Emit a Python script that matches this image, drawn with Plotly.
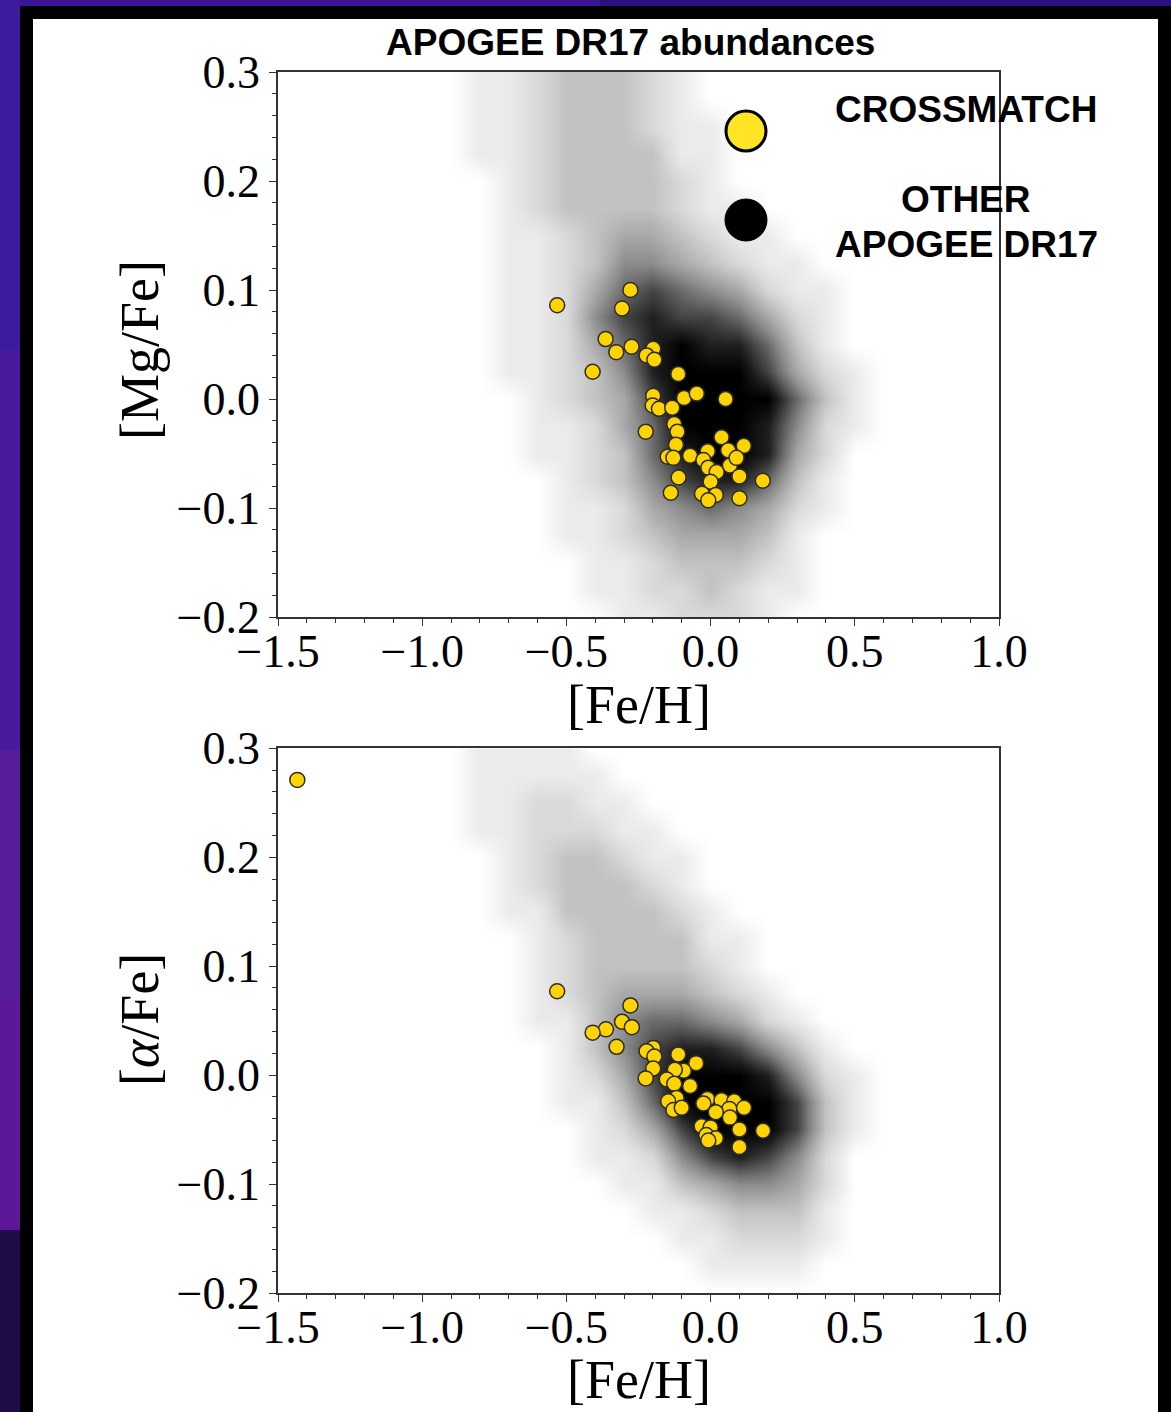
import plotly.graph_objects as go

# ---------------- data ----------------
# Crossmatch stars, top panel ([Mg/Fe] vs [Fe/H])
xm_feh_mg = [-0.532, -0.278, -0.307, -0.364, -0.327, -0.274, -0.199, -0.222, -0.195, -0.409,
             -0.112, -0.199, -0.201, -0.179, -0.133, -0.092, -0.048, 0.052, -0.126, -0.115,
             -0.225, -0.120, 0.038, 0.061, 0.115, -0.010, -0.149, -0.129, -0.071, -0.025,
             0.067, -0.008, 0.021, 0.100, -0.111, 0.181, 0.000, -0.138, -0.030, 0.018,
             0.100, -0.008, 0.090]
xm_mgfe = [0.086, 0.100, 0.083, 0.055, 0.043, 0.048, 0.046, 0.040, 0.036, 0.025,
           0.023, 0.003, -0.006, -0.009, -0.008, 0.001, 0.005, 0.000, -0.023, -0.030,
           -0.030, -0.042, -0.035, -0.047, -0.043, -0.048, -0.053, -0.054, -0.052, -0.056,
           -0.061, -0.063, -0.067, -0.071, -0.072, -0.075, -0.076, -0.086, -0.087, -0.088,
           -0.091, -0.093, -0.054]

# Crossmatch stars, bottom panel ([alpha/Fe] vs [Fe/H])
xm_feh_alpha = [-1.433, -0.532, -0.278, -0.307, -0.273, -0.363, -0.409, -0.326, -0.199, -0.222,
                -0.195, -0.199, -0.112, -0.050, -0.093, -0.124, -0.225, -0.152, -0.126, -0.071,
                -0.118, -0.147, -0.129, -0.100, -0.011, 0.038, 0.082, -0.025, 0.065, 0.018,
                0.116, 0.067, -0.031, 0.000, 0.100, 0.182, -0.015, 0.018, -0.008, 0.100]
xm_alphafe = [0.271, 0.077, 0.064, 0.049, 0.044, 0.042, 0.039, 0.026, 0.025, 0.022,
              0.017, 0.006, 0.019, 0.011, 0.004, 0.005, -0.003, -0.004, -0.008, -0.010,
              -0.021, -0.024, -0.032, -0.030, -0.022, -0.023, -0.024, -0.026, -0.031, -0.034,
              -0.030, -0.039, -0.047, -0.048, -0.050, -0.051, -0.055, -0.058, -0.060, -0.066]

# Other APOGEE DR17 stars: relative point density (0-9)
grid_feh = [-0.9, -0.8, -0.7, -0.6, -0.5, -0.4, -0.3, -0.2, -0.1, 0.0, 0.1, 0.2, 0.3, 0.4, 0.5, 0.6]
grid_ratio = [0.300, 0.275, 0.250, 0.225, 0.200, 0.175, 0.150, 0.125, 0.100, 0.075, 0.050,
              0.025, 0.000, -0.025, -0.050, -0.075, -0.100, -0.125, -0.150, -0.175, -0.200]

density_mg = [
    [0, 1, 1, 2, 3, 3, 3, 2, 1, 0, 0, 0, 0, 0, 0, 0],
    [0, 1, 1, 2, 3, 3, 3, 2, 1, 0, 0, 0, 0, 0, 0, 0],
    [0, 1, 1, 2, 3, 3, 3, 2, 1, 1, 0, 0, 0, 0, 0, 0],
    [0, 1, 1, 2, 3, 3, 3, 3, 1, 1, 0, 0, 0, 0, 0, 0],
    [0, 0, 1, 2, 3, 3, 3, 3, 2, 1, 0, 0, 0, 0, 0, 0],
    [0, 0, 1, 2, 3, 3, 3, 3, 2, 1, 1, 0, 0, 0, 0, 0],
    [0, 0, 1, 1, 2, 3, 4, 4, 3, 2, 1, 1, 0, 0, 0, 0],
    [0, 0, 1, 1, 2, 3, 5, 5, 4, 3, 2, 1, 1, 0, 0, 0],
    [0, 0, 1, 1, 2, 4, 6, 7, 6, 5, 4, 2, 1, 1, 0, 0],
    [0, 0, 1, 1, 2, 5, 7, 8, 7, 7, 6, 4, 2, 1, 0, 0],
    [0, 0, 1, 1, 2, 4, 6, 8, 9, 8, 8, 6, 3, 1, 0, 0],
    [0, 0, 1, 1, 2, 3, 5, 8, 9, 9, 9, 7, 4, 2, 1, 0],
    [0, 0, 0, 1, 2, 3, 4, 7, 9, 9, 9, 9, 6, 3, 1, 0],
    [0, 0, 0, 1, 1, 2, 4, 6, 9, 9, 9, 8, 5, 2, 1, 0],
    [0, 0, 0, 1, 1, 2, 3, 6, 8, 9, 9, 8, 4, 2, 0, 0],
    [0, 0, 0, 0, 1, 2, 3, 5, 7, 8, 8, 6, 3, 1, 0, 0],
    [0, 0, 0, 0, 1, 1, 2, 4, 5, 6, 5, 4, 2, 1, 0, 0],
    [0, 0, 0, 0, 1, 1, 2, 3, 4, 4, 4, 3, 1, 0, 0, 0],
    [0, 0, 0, 0, 0, 1, 1, 2, 3, 3, 3, 2, 1, 0, 0, 0],
    [0, 0, 0, 0, 0, 1, 1, 2, 2, 3, 2, 1, 1, 0, 0, 0],
    [0, 0, 0, 0, 0, 0, 1, 1, 2, 2, 2, 1, 0, 0, 0, 0],
]

density_alpha = [
    [0, 1, 1, 1, 1, 0, 0, 0, 0, 0, 0, 0, 0, 0, 0, 0],
    [0, 1, 1, 1, 1, 1, 0, 0, 0, 0, 0, 0, 0, 0, 0, 0],
    [0, 1, 1, 2, 2, 1, 1, 0, 0, 0, 0, 0, 0, 0, 0, 0],
    [0, 1, 1, 2, 2, 2, 1, 1, 0, 0, 0, 0, 0, 0, 0, 0],
    [0, 0, 1, 2, 3, 3, 2, 1, 1, 0, 0, 0, 0, 0, 0, 0],
    [0, 0, 1, 2, 3, 3, 3, 2, 1, 0, 0, 0, 0, 0, 0, 0],
    [0, 0, 1, 1, 3, 3, 3, 3, 2, 1, 0, 0, 0, 0, 0, 0],
    [0, 0, 0, 1, 2, 3, 3, 3, 3, 1, 1, 0, 0, 0, 0, 0],
    [0, 0, 0, 1, 2, 3, 3, 3, 3, 2, 1, 0, 0, 0, 0, 0],
    [0, 0, 0, 1, 2, 3, 4, 4, 4, 3, 2, 1, 0, 0, 0, 0],
    [0, 0, 0, 1, 1, 3, 5, 6, 6, 5, 4, 2, 1, 0, 0, 0],
    [0, 0, 0, 0, 1, 3, 5, 7, 8, 8, 7, 5, 3, 1, 0, 0],
    [0, 0, 0, 0, 1, 2, 4, 7, 9, 9, 9, 8, 5, 2, 1, 0],
    [0, 0, 0, 0, 1, 1, 3, 6, 9, 9, 9, 9, 7, 3, 1, 0],
    [0, 0, 0, 0, 0, 1, 2, 4, 7, 9, 9, 9, 7, 3, 1, 0],
    [0, 0, 0, 0, 0, 1, 1, 2, 5, 7, 8, 7, 5, 2, 0, 0],
    [0, 0, 0, 0, 0, 0, 1, 1, 3, 4, 5, 5, 4, 2, 0, 0],
    [0, 0, 0, 0, 0, 0, 0, 1, 1, 2, 3, 3, 3, 1, 0, 0],
    [0, 0, 0, 0, 0, 0, 0, 0, 1, 1, 2, 2, 2, 1, 0, 0],
    [0, 0, 0, 0, 0, 0, 0, 0, 0, 1, 1, 1, 1, 0, 0, 0],
    [0, 0, 0, 0, 0, 0, 0, 0, 0, 0, 0, 0, 0, 0, 0, 0],
]

x_ticks = [-1.5, -1.0, -0.5, 0.0, 0.5, 1.0]
y_ticks = [-0.2, -0.1, 0.0, 0.1, 0.2, 0.3]

# ---------------- layout helpers ----------------
W, H = 1171, 1412
def fx(p): return p / W
def fy(p): return 1 - p / H

SERIF = "Liberation Serif, Times New Roman, serif"
SANS = "Liberation Sans, Arial, Helvetica, sans-serif"
YELLOW = "#FFD400"
cloud_alpha = [0, 0.08, 0.15, 0.24, 0.34, 0.45, 0.58, 0.73, 0.88, 1.0]
cloud_scale = [[i / 9, "rgba(0,0,0,%.2f)" % a] for i, a in enumerate(cloud_alpha)]

fig = go.Figure()
for dens, xa, ya in [(density_mg, "x", "y"), (density_alpha, "x2", "y2")]:
    fig.add_trace(go.Heatmap(x=grid_feh, y=grid_ratio, z=dens, zmin=0, zmax=9,
                             colorscale=cloud_scale, showscale=False, zsmooth="best",
                             hoverinfo="skip", xaxis=xa, yaxis=ya))
fig.add_trace(go.Scatter(x=xm_feh_mg, y=xm_mgfe, mode="markers", xaxis="x", yaxis="y",
                         marker=dict(size=15, color=YELLOW, line=dict(color="#2b2b2b", width=1.5)),
                         showlegend=False, hoverinfo="skip"))
fig.add_trace(go.Scatter(x=xm_feh_alpha, y=xm_alphafe, mode="markers", xaxis="x2", yaxis="y2",
                         marker=dict(size=15, color=YELLOW, line=dict(color="#2b2b2b", width=1.5)),
                         showlegend=False, hoverinfo="skip"))

axcommon = dict(showline=True, linecolor="#333", linewidth=1.5, mirror=True, ticks="outside",
                ticklen=7, tickwidth=1.3, tickcolor="#333", showgrid=False, zeroline=False,
                automargin=False,
                tickfont=dict(family=SERIF, size=46, color="black"), tickformat=".1f")
xcommon = dict(axcommon, range=[-1.5, 1.0], tickvals=x_ticks, ticklabelstandoff=-14,
               minor=dict(dtick=0.1, tick0=0, ticks="outside", ticklen=4, tickcolor="#333", tickwidth=1.1))
ycommon = dict(axcommon, range=[-0.2, 0.3], tickvals=y_ticks,
               minor=dict(dtick=0.02, tick0=0, ticks="outside", ticklen=4, tickcolor="#333", tickwidth=1.1))

fig.update_layout(
    width=W, height=H, autosize=False,
    margin=dict(l=0, r=0, t=0, b=0, pad=0),
    paper_bgcolor="#3b1592", plot_bgcolor="white",
    showlegend=False,
    xaxis=dict(xcommon, domain=[fx(278), fx(999)], anchor="y"),
    yaxis=dict(ycommon, domain=[fy(617), fy(72)], anchor="x"),
    xaxis2=dict(xcommon, domain=[fx(278), fx(999)], anchor="y2"),
    yaxis2=dict(ycommon, domain=[fy(1293), fy(748.3)], anchor="x2"),
)

shapes = []
def rect(x0, y0, x1, y1, color):
    shapes.append(dict(type="rect", xref="paper", yref="paper", x0=fx(x0), x1=fx(x1),
                       y0=fy(y1), y1=fy(y0), fillcolor=color, line=dict(width=0), layer="below"))
# background wallpaper tones
rect(0, 0, 600, 6, "#3a1696")
rect(600, 0, 1171, 6, "#2d1080")
rect(0, 0, 20, 350, "#3e1a9e")
rect(0, 350, 20, 750, "#4a1a9e")
rect(0, 750, 20, 1000, "#561c9c")
rect(0, 1000, 20, 1230, "#5c1898")
rect(0, 1230, 20, 1412, "#1f0b45")
# black frame and white slide
rect(20, 6, 1171, 1412, "#000000")
rect(33, 19, 1158, 1412, "#ffffff")
# legend markers
shapes.append(dict(type="circle", xref="paper", yref="paper", x0=fx(726), x1=fx(766),
                   y0=fy(151), y1=fy(111), fillcolor="#FFE526", line=dict(color="black", width=3)))
shapes.append(dict(type="circle", xref="paper", yref="paper", x0=fx(725), x1=fx(767),
                   y0=fy(241), y1=fy(199), fillcolor="black", line=dict(color="black", width=1)))
fig.update_layout(shapes=shapes)

ann = [
    dict(text="<b>APOGEE DR17 abundances</b>", x=fx(630), y=fy(43), font=dict(family=SANS, size=37, color="black")),
    dict(text="<b>CROSSMATCH</b>", x=fx(966), y=fy(110), font=dict(family=SANS, size=37, color="black")),
    dict(text="<b>OTHER</b>", x=fx(966), y=fy(199), font=dict(family=SANS, size=37, color="black")),
    dict(text="<b>APOGEE DR17</b>", x=fx(966), y=fy(245), font=dict(family=SANS, size=37, color="black")),
    # axis titles
    dict(text="[Fe/H]", x=fx(638.5), y=fy(705), font=dict(family=SERIF, size=54, color="black")),
    dict(text="[Fe/H]", x=fx(638.5), y=fy(1380), font=dict(family=SERIF, size=54, color="black")),
    dict(text="[Mg/Fe]", x=fx(140), y=fy(350), textangle=-90, font=dict(family=SERIF, size=54, color="black")),
    dict(text="[<i>α</i>/Fe]", x=fx(140), y=fy(1020), textangle=-90, font=dict(family=SERIF, size=54, color="black")),
]
for a in ann:
    a.update(xref="paper", yref="paper", showarrow=False, xanchor="center", yanchor="middle")
fig.update_layout(annotations=ann)

fig.write_html("out.html", config={"displayModeBar": False},
               post_script="document.body.style.margin='0px';")
